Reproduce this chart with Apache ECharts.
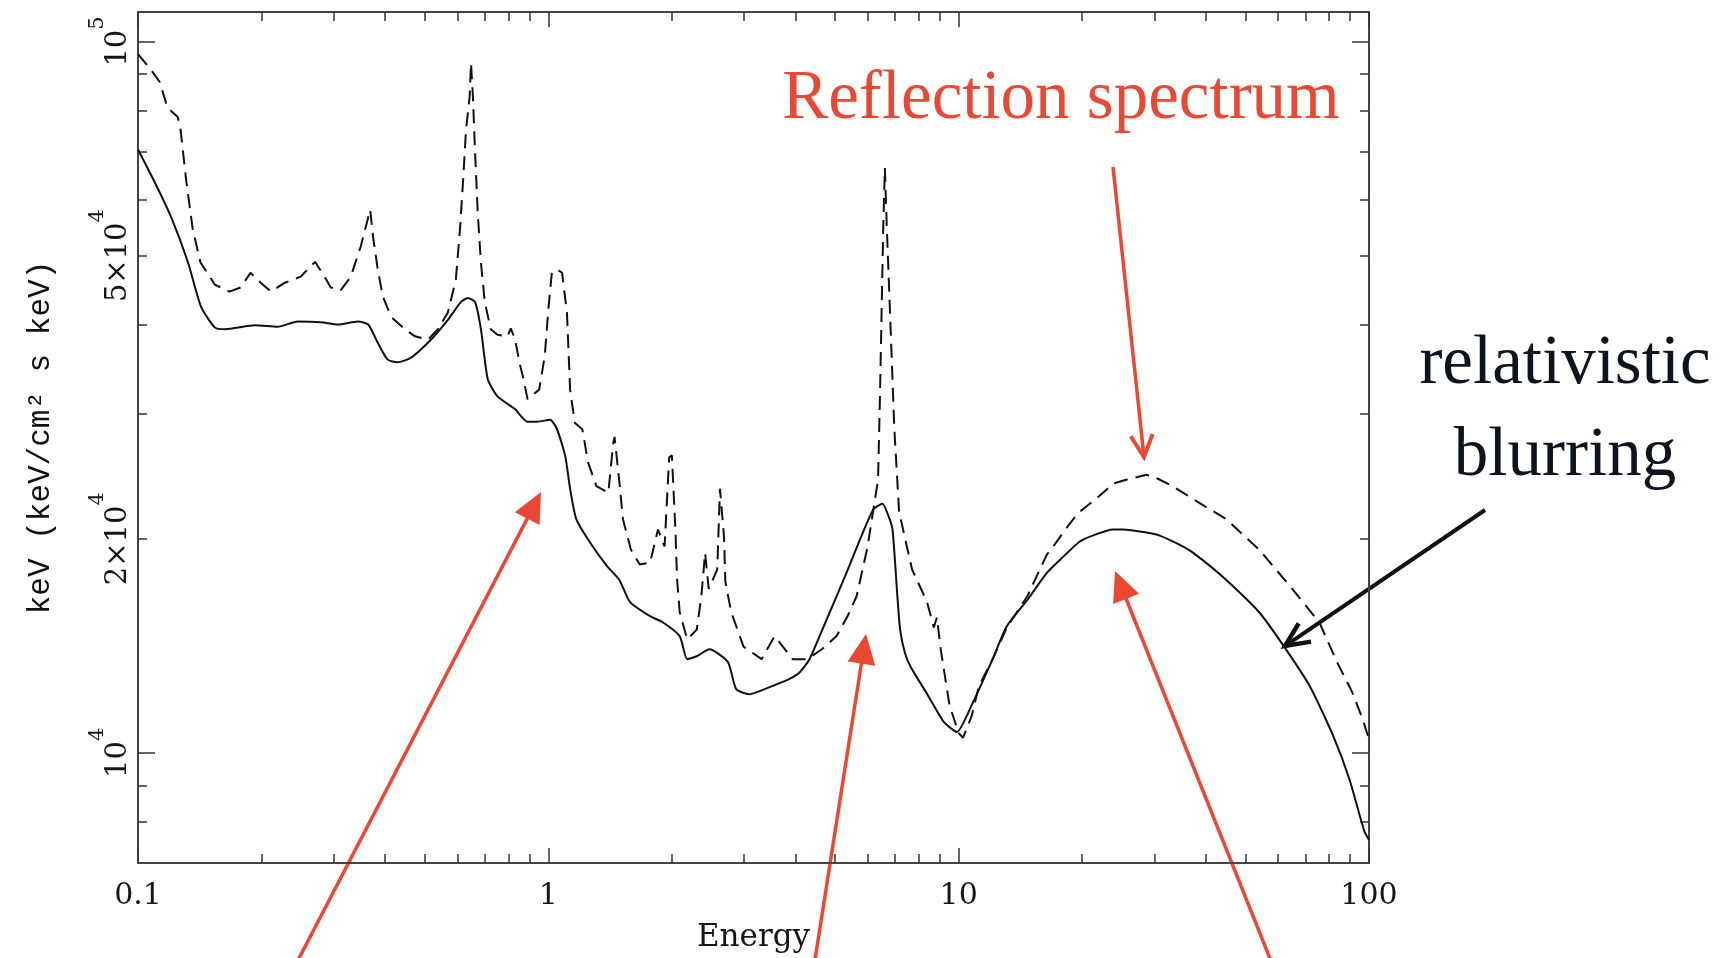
<!DOCTYPE html>
<html>
<head>
<meta charset="utf-8">
<script src="https://cdn.jsdelivr.net/npm/echarts@6/dist/echarts.min.js"></script>
<style>
  html, body { margin: 0; padding: 0; background: #ffffff; }
  #chart { width: 1731px; height: 958px; }
</style>
</head>
<body>
<div id="chart"></div>
<script>
// ---------------- data ----------------
// Solid curve: relativistically blurred reflection spectrum
const solidEnergy = [0.1, 0.11, 0.1203, 0.1324, 0.1424, 0.154, 0.163, 0.193, 0.219, 0.245, 0.279, 0.307, 0.344, 0.364,
  0.384, 0.406, 0.429, 0.462, 0.518, 0.569, 0.612, 0.636, 0.663, 0.685, 0.712, 0.752, 0.83, 0.89, 0.94, 1.01, 1.05,
  1.10, 1.13, 1.17, 1.26, 1.39, 1.49, 1.58, 1.77, 1.90, 2.09, 2.18, 2.30, 2.47, 2.74, 2.87, 3.09, 3.45, 3.86, 4.10,
  4.33, 4.7, 5.35, 5.8, 6.2, 6.52, 6.75, 6.9, 7.09, 7.2, 7.4, 7.64, 8.39, 9.2, 9.9, 10.75, 12.1, 13.1, 14.7, 16.4,
  17.7, 19.7, 21.2, 23.8, 25.1, 28.7, 30.9, 34.6, 37.3, 44.9, 54.0, 62.1, 71.7, 81.9, 89.6, 97.4, 100];
const solidFlux = [70500, 63300, 56700, 48900, 42400, 39600, 39400, 39900, 39700, 40400, 40300, 40000, 40400, 40000,
  37700, 35700, 35400, 35900, 38100, 40600, 43000, 43600, 43000, 39400, 33500, 31700, 30400, 29200, 29200, 29400, 28500,
  26100, 23500, 21300, 19800, 18300, 17500, 16300, 15560, 15260, 14590, 13540, 13670, 13980, 13410, 12290, 12090, 12360, 12690, 12980,
  13540, 15100, 18000, 20200, 22000, 22400, 21500, 20600, 16600, 14900, 13800, 13200, 12080, 11050, 10700, 11660, 13540, 15060, 16400, 17900,
  18700, 19800, 20200, 20600, 20600, 20400, 20200, 19600, 19100, 17500, 15760, 14100, 12410, 10550, 9180, 7760, 7550];

// Dashed curve: unblurred reflection spectrum
const dashedEnergy = [0.1, 0.1076, 0.113, 0.118, 0.125, 0.127, 0.131, 0.136, 0.142, 0.154, 0.167, 0.178, 0.188, 0.199,
  0.211, 0.228, 0.249, 0.270, 0.285, 0.295, 0.312, 0.33, 0.349, 0.368, 0.374, 0.384, 0.395, 0.414, 0.447, 0.473, 0.509,
  0.538, 0.569, 0.595, 0.609, 0.62, 0.63, 0.643, 0.648, 0.655, 0.662, 0.673, 0.685, 0.70, 0.724, 0.752, 0.795, 0.81,
  0.83, 0.85, 0.87, 0.89, 0.95, 0.98, 1.00, 1.02, 1.05, 1.08, 1.11, 1.13, 1.16, 1.21, 1.25, 1.31, 1.40, 1.44, 1.45,
  1.49, 1.52, 1.59, 1.67, 1.77, 1.85, 1.92, 1.97, 2.00, 2.04, 2.06, 2.09, 2.18, 2.30, 2.36, 2.41, 2.46, 2.58, 2.62,
  2.64, 2.68, 2.70, 2.79, 2.99, 3.31, 3.56, 3.66, 3.94, 4.28, 4.64, 5.04, 5.36, 5.64, 6.0, 6.36, 6.43, 6.55, 6.61,
  6.68, 6.78, 6.97, 7.16, 7.7, 8.37, 8.7, 8.85, 9.05, 9.5, 10.0, 10.25, 10.75, 11.2, 12.1, 13.1, 14.7, 16.4, 17.0,
  18.2, 19.5, 21.9, 23.8, 25.6, 28.7, 30.5, 33.2, 38.4, 44.9, 54.0, 65.0, 75.7, 83.6, 91.0, 96.5, 100];
const dashedFlux = [96000, 91200, 87700, 80700, 78300, 75100, 63900, 54400, 48900, 45500, 44500, 45100, 47300, 45800,
  44500, 45800, 46700, 49000, 46700, 45100, 44700, 46700, 51500, 58000, 53100, 47800, 43800, 41000, 39400, 38500, 38100,
  39400, 41600, 46200, 54400, 63900, 75100, 83600, 93300, 83600, 71100, 57400, 48900, 43000, 39400, 38700, 38500, 39500,
  38100, 35400, 33500, 31400, 32400, 36100, 42000, 47300, 47800, 47300, 41600, 32400, 29100, 28500, 25600, 23700, 23200, 27300, 27800,
  24000, 21300, 19300, 18400, 18500, 20600, 19500, 26000, 26200, 20600, 17500, 15770, 14440, 14900, 16600, 19100, 17000, 18100, 23500,
  23500, 20100, 17400, 15770, 14100, 13540, 14590, 14300, 13540, 13540, 13980, 14590, 15560, 16600, 19500, 24200, 31700, 55000, 66400,
  55000, 43800, 28500, 21800, 18100, 16300, 15000, 15500, 13930, 11660, 10660, 10500, 11250, 12400, 13540, 15000, 16600, 19000, 19500,
  20600, 21700, 22900, 23900, 24200, 24600, 24300, 23700, 22500, 21300, 19300, 17000, 15250, 13410, 12170, 11150, 10450];

// Axis ranges and ticks
const xRange = [0.1, 100];
const yRange = [7000, 110000];
const xMajorTicks = [0.1, 1, 10, 100];
const xTickLabels = ['0.1', '1', '10', '100'];
const xMinorTicks = [0.2, 0.3, 0.4, 0.5, 0.6, 0.7, 0.8, 0.9, 2, 3, 4, 5, 6, 7, 8, 9, 20, 30, 40, 50, 60, 70, 80, 90];
const yMajorTicks = [10000, 100000];
const yLabelValues = [10000, 20000, 50000, 100000];
const yTickMantissa = ['10', '2×10', '5×10', '10'];
const yTickExponent = ['4', '4', '4', '5'];
const yMinorTicks = [8000, 9000, 20000, 30000, 40000, 50000, 60000, 70000, 80000, 90000];

// Text
const xTitle = 'Energy';
const yTitle = 'keV (keV/cm² s keV)';
const redNote = 'Reflection spectrum';
const blackNote = ['relativistic', 'blurring'];

// ---------------- chart ----------------
const chart = echarts.init(document.getElementById('chart'), null, { renderer: 'canvas' });

function findIndex(values, v) {
  for (let i = 0; i < values.length; i++) {
    if (Math.abs(values[i] - v) / values[i] < 1e-6) return i;
  }
  return -1;
}

const axisColor = '#444';
const tickColor = '#333';

function xAxisDef(position, major, showLine, withLabels) {
  const ax = {
    type: 'log', logBase: 10, min: xRange[0], max: xRange[1], position: position,
    gridIndex: 0,
    axisLine: { show: showLine, onZero: false, lineStyle: { color: axisColor, width: 2 } },
    axisTick: { show: true, inside: true, length: major ? 15 : 9,
      customValues: major ? xMajorTicks : xMinorTicks,
      lineStyle: { color: tickColor, width: 1.5 } },
    axisLabel: { show: false },
    splitLine: { show: false }, minorTick: { show: false }, minorSplitLine: { show: false }
  };
  if (withLabels) {
    ax.axisLabel = { show: true, margin: 18, customValues: xMajorTicks,
      fontFamily: 'DejaVu Serif', fontSize: 30, color: '#151515',
      formatter: function (v) { const i = findIndex(xMajorTicks, v); return i >= 0 ? xTickLabels[i] : ''; } };
    ax.name = xTitle;
    ax.nameLocation = 'middle';
    ax.nameGap = 59;
    ax.nameTextStyle = { fontFamily: 'DejaVu Serif', fontSize: 31, color: '#151515' };
  }
  return ax;
}

function yAxisDef(position, major, showLine, withLabels) {
  const ax = {
    type: 'log', logBase: 10, min: yRange[0], max: yRange[1], position: position,
    gridIndex: 0,
    axisLine: { show: showLine, onZero: false, lineStyle: { color: axisColor, width: 2 } },
    axisTick: { show: true, inside: true, length: major ? 17 : 9,
      customValues: major ? yMajorTicks : yMinorTicks,
      lineStyle: { color: tickColor, width: 1.5 } },
    axisLabel: { show: false },
    splitLine: { show: false }, minorTick: { show: false }, minorSplitLine: { show: false }
  };
  if (withLabels) {
    ax.axisLabel = { show: true, margin: 5, rotate: 90, customValues: yLabelValues,
      formatter: function (v) {
        const i = findIndex(yLabelValues, v);
        return i >= 0 ? '{b|' + yTickMantissa[i] + '}{s|' + yTickExponent[i] + '}' : '';
      },
      rich: {
        b: { fontFamily: 'DejaVu Serif', fontSize: 29, color: '#151515', lineHeight: 46, verticalAlign: 'bottom' },
        s: { fontFamily: 'DejaVu Serif', fontSize: 21, color: '#151515', lineHeight: 21, verticalAlign: 'top' }
      } };
    ax.name = yTitle;
    ax.nameLocation = 'middle';
    ax.nameRotate = 90;
    ax.nameGap = 82;
    ax.nameTextStyle = { fontFamily: 'Liberation Mono', fontSize: 31, color: '#111' };
  }
  return ax;
}

// ---- annotation arrows (pixel-space drawing helpers) ----
const red = '#eb4834';
const ink = '#111111';
function unit(a, b) {
  const dx = b[0] - a[0], dy = b[1] - a[1];
  const L = Math.sqrt(dx * dx + dy * dy);
  return [dx / L, dy / L];
}
function filledArrow(tail, tip, color, len, hw, width) {
  const u = unit(tail, tip);
  const n = [-u[1], u[0]];
  const base = [tip[0] - u[0] * len, tip[1] - u[1] * len];
  return [
    { type: 'line', silent: true, shape: { x1: tail[0], y1: tail[1], x2: base[0] + u[0] * 2, y2: base[1] + u[1] * 2 },
      style: { stroke: color, lineWidth: width } },
    { type: 'polygon', silent: true, shape: { points: [tip, [base[0] + n[0] * hw, base[1] + n[1] * hw], [base[0] - n[0] * hw, base[1] - n[1] * hw]] },
      style: { fill: color } }
  ];
}
function openArrow(tail, tip, color, len, hw, width) {
  const u = unit(tail, tip);
  const n = [-u[1], u[0]];
  const base = [tip[0] - u[0] * len, tip[1] - u[1] * len];
  return [
    { type: 'line', silent: true, shape: { x1: tail[0], y1: tail[1], x2: tip[0] - u[0] * 2, y2: tip[1] - u[1] * 2 },
      style: { stroke: color, lineWidth: width } },
    { type: 'polyline', silent: true, shape: { points: [[base[0] + n[0] * hw, base[1] + n[1] * hw], tip, [base[0] - n[0] * hw, base[1] - n[1] * hw]] },
      style: { stroke: color, lineWidth: width + 0.5, fill: null, lineJoin: 'miter' } }
  ];
}

const noteFont = '69px "Liberation Serif"';
const graphics = [].concat(
  openArrow([1113, 167], [1144, 457], red, 22, 11, 3.5),
  filledArrow([295, 966], [541, 492], red, 30, 14, 3.5),
  filledArrow([814, 966], [866, 634], red, 30, 14, 3.5),
  filledArrow([1273, 966], [1115, 571], red, 30, 14, 3.5),
  openArrow([1485, 510], [1285, 646], ink, 24, 11, 4),
  [
    { type: 'text', silent: true, style: { text: redNote, x: 1061, y: 100, fill: red,
      font: noteFont, align: 'center', verticalAlign: 'middle' } },
    { type: 'text', silent: true, style: { text: blackNote[0], x: 1565, y: 365, fill: '#0d1420',
      font: noteFont, align: 'center', verticalAlign: 'middle' } },
    { type: 'text', silent: true, style: { text: blackNote[1], x: 1565, y: 457, fill: '#0d1420',
      font: noteFont, align: 'center', verticalAlign: 'middle' } }
  ]
);

const option = {
  animation: false,
  backgroundColor: '#ffffff',
  grid: { left: 138, right: 362, top: 12, bottom: 94, containLabel: false, show: false },
  xAxis: [
    xAxisDef('bottom', true, true, true),
    xAxisDef('bottom', false, false, false),
    xAxisDef('top', true, true, false),
    xAxisDef('top', false, false, false)
  ],
  yAxis: [
    yAxisDef('left', true, true, true),
    yAxisDef('left', false, false, false),
    yAxisDef('right', true, true, false),
    yAxisDef('right', false, false, false)
  ],
  series: [
    {
      name: 'blurred', type: 'line', xAxisIndex: 0, yAxisIndex: 0,
      data: solidEnergy.map((e, i) => [e, solidFlux[i]]),
      showSymbol: false, symbol: 'none', smooth: 0.2, clip: true, silent: true,
      lineStyle: { color: ink, width: 2 }
    },
    {
      name: 'reflection', type: 'line', xAxisIndex: 0, yAxisIndex: 0,
      data: dashedEnergy.map((e, i) => [e, dashedFlux[i]]),
      showSymbol: false, symbol: 'none', smooth: false, clip: true, silent: true,
      lineStyle: { color: ink, width: 2, type: [14, 8] }
    }
  ],
  graphic: graphics
};
chart.setOption(option);
</script>
</body>
</html>
